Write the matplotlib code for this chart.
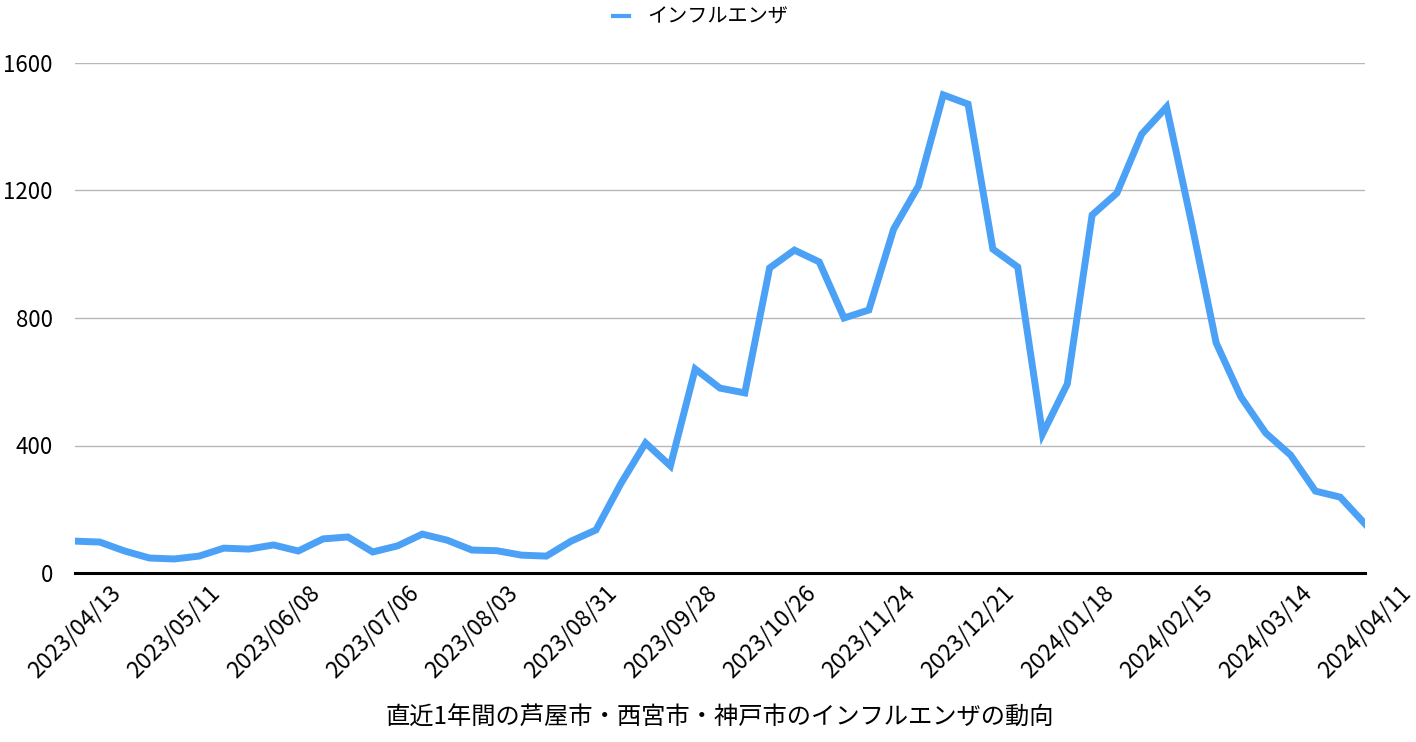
import matplotlib
matplotlib.use("Agg")
import matplotlib.pyplot as plt

plt.rcParams['font.family'] = ['Noto Sans CJK JP', 'DejaVu Sans']

tick_labels = ["2023/04/13", "2023/05/11", "2023/06/08", "2023/07/06", "2023/08/03",
               "2023/08/31", "2023/09/28", "2023/10/26", "2023/11/24", "2023/12/21",
               "2024/01/18", "2024/02/15", "2024/03/14", "2024/04/11"]
flu = [100, 97, 69, 47, 44, 53, 78, 75, 88, 69,
       107, 113, 66, 85, 122, 103, 72, 70, 56, 53,
       100, 135, 280, 408, 336, 640, 580, 565, 957, 1013,
       976, 800, 825, 1079, 1214, 1500, 1471, 1016, 960, 436,
       593, 1123, 1192, 1377, 1462, 1101, 722, 552, 439, 370,
       257, 238, 154]
series_name = "インフルエンザ"
x_title = "直近1年間の芦屋市・西宮市・神戸市のインフルエンザの動向"

fig = plt.figure(figsize=(14.16, 7.42), dpi=100)
ax = fig.add_axes([75/1416, 1 - 573/742, 1290/1416, 510/742])

x = list(range(len(flu)))
ax.plot(x, flu, color='#4ba1f6', linewidth=5, solid_joinstyle='miter', label=series_name)

ax.set_xlim(0, len(flu) - 1)
ax.set_ylim(0, 1600)
ax.set_yticks([0, 400, 800, 1200, 1600])
ax.set_xticks(list(range(0, len(flu), 4)))
ax.set_xticklabels(tick_labels, rotation=45, ha='center', va='top')
ax.tick_params(axis='x', length=0, pad=6, labelsize=16.5)
ax.tick_params(axis='y', length=0, pad=16, labelsize=16)
ax.grid(axis='y', color='#b8b8b8', linewidth=1)
ax.set_axisbelow(True)
for s in ['left', 'right', 'top']:
    ax.spines[s].set_visible(False)
ax.spines['bottom'].set_linewidth(2.2)
ax.spines['bottom'].set_color('black')
ax.spines['bottom'].set_zorder(3)

fig.text(720/1416, 1 - 718/742, x_title, ha='center', va='center', fontsize=17.5)
leg = fig.legend(loc='upper center', bbox_to_anchor=(0.495, 1.015), frameon=False,
                 fontsize=14.5, handlelength=0.8, handletextpad=0.9)
leg.get_lines()[0].set_linewidth(3)

fig.savefig("out.png", dpi=100)
